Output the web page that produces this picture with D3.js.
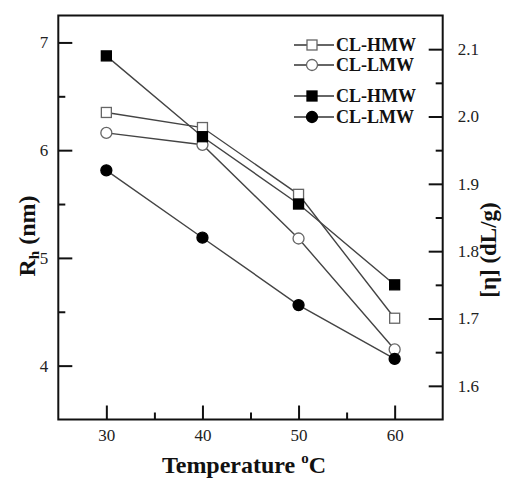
<!DOCTYPE html>
<html>
<head>
<meta charset="utf-8">
<script src="https://cdn.jsdelivr.net/npm/d3@7"></script>
<style>
  html, body { margin: 0; padding: 0; background: #fff; }
  svg { display: block; }
</style>
</head>
<body>
<svg id="chart" width="512" height="478"></svg>
<script>
// ---- data ----
const temperatures = [30, 40, 50, 60];
const rhHMW = [6.35, 6.21, 5.59, 4.44];    // open squares, left axis
const rhLMW = [6.16, 6.05, 5.18, 4.15];    // open circles, left axis
const etaHMW = [2.09, 1.97, 1.87, 1.75];   // filled squares, right axis
const etaLMW = [1.92, 1.82, 1.72, 1.64];   // filled circles, right axis
const legendLabels = ["CL-HMW", "CL-LMW", "CL-HMW", "CL-LMW"];
const xTicks = [30, 40, 50, 60];
const xMinor = [35, 45, 55];
const leftTicks = [4, 5, 6, 7];
const leftMinor = [4.5, 5.5, 6.5];
const rightTicks = [1.6, 1.7, 1.8, 1.9, 2.0, 2.1];
const rightMinor = [1.65, 1.75, 1.85, 1.95, 2.05];

// ---- layout ----
const L = 58.3, R = 442.7, T = 15.5, B = 419.5;
const svg = d3.select("#chart");
const font = "'Liberation Serif', 'Times New Roman', serif";

const x = d3.scaleLinear().domain([25, 65]).range([L, R]);
const yL = d3.scaleLinear().domain([3.5, 7.25]).range([B, T]);
const yR = d3.scaleLinear().domain([1.55, 2.15]).range([B, T]);

function styleAxis(g) {
  g.attr("font-family", font).attr("font-size", 17);
  g.selectAll(".domain").remove();
  g.selectAll(".tick line").attr("stroke", "#111").attr("stroke-width", 2);
  g.selectAll(".tick text").attr("font-family", font).attr("font-size", 17).attr("fill", "#222");
}

// bottom axis
svg.append("g").attr("transform", `translate(0,${B})`)
  .call(d3.axisBottom(x).tickValues(xTicks).tickSize(-14).tickPadding(9).tickFormat(d3.format("d")))
  .call(styleAxis);
svg.append("g").attr("transform", `translate(0,${B})`)
  .call(d3.axisBottom(x).tickValues(xMinor).tickSize(-7).tickFormat(""))
  .call(styleAxis);

// left axis
svg.append("g").attr("transform", `translate(${L},0)`)
  .call(d3.axisLeft(yL).tickValues(leftTicks).tickSize(-14).tickPadding(10).tickFormat(d3.format("d")))
  .call(styleAxis);
svg.append("g").attr("transform", `translate(${L},0)`)
  .call(d3.axisLeft(yL).tickValues(leftMinor).tickSize(-7).tickFormat(""))
  .call(styleAxis);

// right axis
svg.append("g").attr("transform", `translate(${R},0)`)
  .call(d3.axisRight(yR).tickValues(rightTicks).tickSize(-14).tickPadding(15).tickFormat(d3.format(".1f")))
  .call(styleAxis);
svg.append("g").attr("transform", `translate(${R},0)`)
  .call(d3.axisRight(yR).tickValues(rightMinor).tickSize(-7).tickFormat(""))
  .call(styleAxis);

// frame
svg.append("rect").attr("x", L).attr("y", T).attr("width", R - L).attr("height", B - T)
  .attr("fill", "none").attr("stroke", "#111").attr("stroke-width", 2);

// series
const series = [
  { vals: rhHMW, y: yL, shape: "square", filled: false },
  { vals: rhLMW, y: yL, shape: "circle", filled: false },
  { vals: etaHMW, y: yR, shape: "square", filled: true },
  { vals: etaLMW, y: yR, shape: "circle", filled: true }
];

function drawMarker(g, cx, cy, s) {
  const fill = s.filled ? "#000" : "#fff";
  const stroke = s.filled ? "#000" : "#666";
  if (s.shape === "square") {
    g.append("rect").attr("x", cx - 5).attr("y", cy - 5).attr("width", 10).attr("height", 10)
      .attr("fill", fill).attr("stroke", stroke).attr("stroke-width", 1.3);
  } else {
    g.append("circle").attr("cx", cx).attr("cy", cy).attr("r", 5.5)
      .attr("fill", fill).attr("stroke", stroke).attr("stroke-width", 1.3);
  }
}

const plot = svg.append("g");
series.forEach(s => {
  const line = d3.line().x((d, i) => x(temperatures[i])).y(d => s.y(d));
  plot.append("path").datum(s.vals).attr("d", line)
    .attr("fill", "none").attr("stroke", "#444").attr("stroke-width", 1.4);
});
series.forEach(s => {
  s.vals.forEach((v, i) => drawMarker(plot, x(temperatures[i]), s.y(v), s));
});

// legend
const legY = [45, 65, 96, 117];
const leg = svg.append("g");
series.forEach((s, i) => {
  leg.append("line").attr("x1", 294).attr("x2", 334).attr("y1", legY[i]).attr("y2", legY[i])
    .attr("stroke", "#333").attr("stroke-width", 1.5);
  drawMarker(leg, 312, legY[i], s);
  leg.append("text").attr("x", 336).attr("y", legY[i] + 6)
    .attr("font-family", font).attr("font-weight", "bold").attr("font-size", 18)
    .attr("fill", "#111").text(legendLabels[i]);
});

// axis titles
const xt = svg.append("text").attr("x", 244).attr("y", 473).attr("text-anchor", "middle")
  .attr("font-family", font).attr("font-weight", "bold").attr("font-size", 24).attr("fill", "#111");
xt.append("tspan").text("Temperature ");
xt.append("tspan").attr("font-size", 15).attr("dy", -10).text("o");
xt.append("tspan").attr("dy", 10).text("C");

const ylt = svg.append("text").attr("transform", "translate(35,236) rotate(-90)").attr("text-anchor", "middle")
  .attr("font-family", font).attr("font-weight", "bold").attr("font-size", 24).attr("fill", "#111");
ylt.append("tspan").text("R");
ylt.append("tspan").attr("font-size", 15).attr("dy", 4).text("h");
ylt.append("tspan").attr("dy", -4).text(" (nm)");

svg.append("text").attr("transform", "translate(496,250) rotate(-90)").attr("text-anchor", "middle")
  .attr("font-family", font).attr("font-weight", "bold").attr("font-size", 23).attr("fill", "#111")
  .text("[η] (dL/g)");
</script>
</body>
</html>
